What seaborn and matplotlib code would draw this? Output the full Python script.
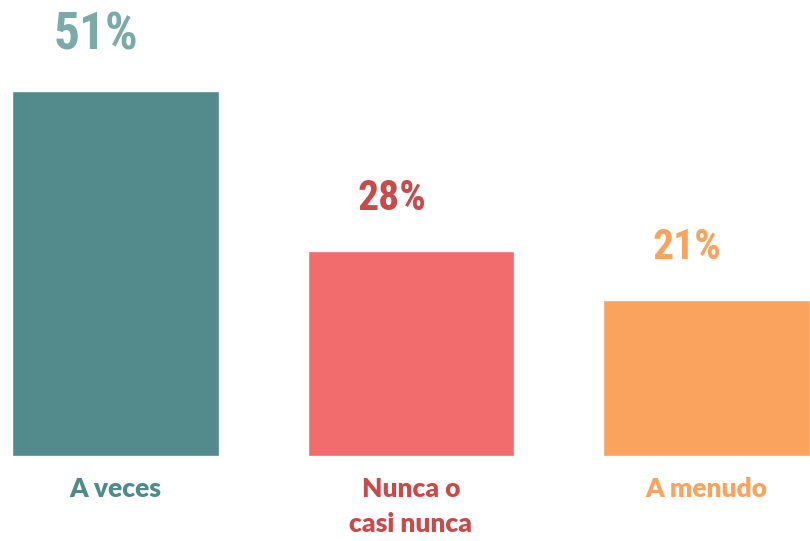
import matplotlib
matplotlib.use("Agg")
import matplotlib.pyplot as plt
import seaborn as sns
import pandas as pd

# Answers and their shares (%)
categories = ["A veces", "Nunca o\ncasi nunca", "A menudo"]
values = [51, 28, 21]
value_labels = ["51%", "28%", "21%"]

bar_colors = ["#538A8C", "#F26B6D", "#F9A35E"]
value_colors = ["#7BAAA9", "#C84A4A", "#F9A35E"]
category_colors = ["#4E8C8C", "#C84A4A", "#F9A35E"]
value_sizes = [37, 30, 30]

sns.set_theme(style="white")
plt.rcParams["font.family"] = ["Lato", "DejaVu Sans"]

df = pd.DataFrame({"cat": categories, "val": values})

fig = plt.figure(figsize=(8.10, 5.41), dpi=100)
ax = fig.add_axes([0, 0, 1, 1])

sns.barplot(data=df, x="cat", y="val", hue="cat", palette=bar_colors,
            width=0.7, legend=False, ax=ax, saturation=1)

# bars sit on a short plinth below the zero line
plinth = 1.45
for patch in ax.patches:
    patch.set_y(patch.get_y() - plinth)
    patch.set_height(patch.get_height() + plinth)

ax.set_xlim(-0.3906, 2.35)
ax.set_ylim(-13.66, 64.07)
ax.axis("off")

for i, (v, lab) in enumerate(zip(values, value_labels)):
    ax.text(i - 0.065, v + 5.9, lab, ha="center", va="baseline",
            fontsize=value_sizes[i], fontweight="bold", color=value_colors[i],
            family=["Roboto Condensed", "Liberation Sans Narrow", "Roboto", "DejaVu Sans"])

for i, cat in enumerate(categories):
    ax.text(i, -4.5, cat, ha="center", va="top", fontsize=19,
            fontweight="heavy", color=category_colors[i], linespacing=1.55)

fig.savefig("out.png", dpi=100)
